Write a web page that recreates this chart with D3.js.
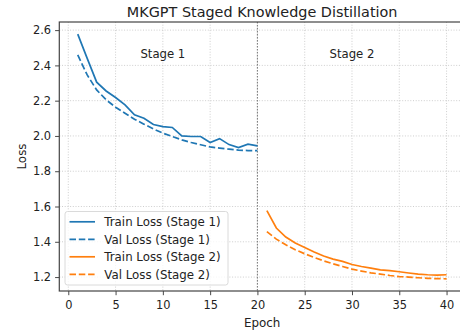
<!DOCTYPE html>
<html>
<head>
<meta charset="utf-8">
<script src="https://cdn.jsdelivr.net/npm/d3@7"></script>
<style>
    body { margin: 0; background: #fff; overflow: hidden; }
    text { font-family: "DejaVu Sans", sans-serif; fill: #222; }
</style>
</head>
<body>
<div id="chart"></div>
<script>
// data
const epochsStage1 = d3.range(1, 21);
const epochsStage2 = d3.range(21, 41);
const trainStage1 = [2.577, 2.44, 2.305, 2.255, 2.218, 2.176, 2.12, 2.10, 2.065, 2.053,
    2.048, 2.0, 1.997, 1.997, 1.963, 1.985, 1.951, 1.934, 1.953, 1.944];
const valStage1 = [2.459, 2.346, 2.261, 2.205, 2.163, 2.129, 2.095, 2.067, 2.04, 2.016,
    1.997, 1.978, 1.963, 1.95, 1.938, 1.931, 1.925, 1.92, 1.917, 1.917];
const trainStage2 = [1.577, 1.478, 1.427, 1.393, 1.368, 1.342, 1.319, 1.302, 1.289, 1.271,
    1.26, 1.251, 1.241, 1.236, 1.23, 1.223, 1.217, 1.213, 1.211, 1.213];
const valStage2 = [1.458, 1.415, 1.383, 1.355, 1.332, 1.311, 1.292, 1.275, 1.26, 1.245,
    1.234, 1.224, 1.217, 1.209, 1.203, 1.2, 1.196, 1.193, 1.191, 1.19];
const xTicks = [0, 5, 10, 15, 20, 25, 30, 35, 40];
const yTicks = [1.2, 1.4, 1.6, 1.8, 2.0, 2.2, 2.4, 2.6];
const seriesNames = ["Train Loss (Stage 1)", "Val Loss (Stage 1)", "Train Loss (Stage 2)", "Val Loss (Stage 2)"];
const stageLabels = [{ x: 10, text: "Stage 1" }, { x: 30, text: "Stage 2" }];
const stageBoundary = 20;

const width = 460, height = 331;
const plot = { left: 59.3, right: 465, top: 22, bottom: 291 };

const x = d3.scaleLinear().domain([-0.95, 41.95]).range([plot.left, plot.right]);
const y = d3.scaleLinear().domain([1.121, 2.646]).range([plot.bottom, plot.top]);

const blue = "#1f77b4", orange = "#ff7f0e";

const svg = d3.select("#chart")
    .append("svg")
    .attr("width", width)
    .attr("height", height);

// grid
const grid = svg.append("g").attr("class", "grid");
grid.selectAll(".gx")
    .data(xTicks)
    .enter()
    .append("line")
    .attr("x1", d => x(d)).attr("x2", d => x(d))
    .attr("y1", plot.top).attr("y2", plot.bottom)
    .attr("stroke", "#c8c8c8")
    .attr("stroke-width", 0.9)
    .attr("stroke-dasharray", "1,1.7");
grid.selectAll(".gy")
    .data(yTicks)
    .enter()
    .append("line")
    .attr("x1", plot.left).attr("x2", plot.right)
    .attr("y1", d => y(d)).attr("y2", d => y(d))
    .attr("stroke", "#c8c8c8")
    .attr("stroke-width", 0.9)
    .attr("stroke-dasharray", "1,1.7");

// stage divider
svg.append("line")
    .attr("x1", x(stageBoundary)).attr("x2", x(stageBoundary))
    .attr("y1", plot.top).attr("y2", plot.bottom)
    .attr("stroke", "#808080")
    .attr("stroke-width", 1.1)
    .attr("stroke-dasharray", "1.5,1.5");

const line = d3.line().x(d => x(d[0])).y(d => y(d[1]));
const series = [
    { ep: epochsStage1, vals: trainStage1, color: blue, dash: null },
    { ep: epochsStage1, vals: valStage1, color: blue, dash: "6.5,2.8" },
    { ep: epochsStage2, vals: trainStage2, color: orange, dash: null },
    { ep: epochsStage2, vals: valStage2, color: orange, dash: "6.5,2.8" }
];

series.forEach(s => {
    svg.append("path")
        .datum(s.ep.map((e, i) => [e, s.vals[i]]))
        .attr("d", line)
        .attr("fill", "none")
        .attr("stroke", s.color)
        .attr("stroke-width", 1.7)
        .attr("stroke-dasharray", s.dash);
});

// stage labels
svg.selectAll(".stage-label")
    .data(stageLabels)
    .enter()
    .append("text")
    .attr("x", d => x(d.x))
    .attr("y", 58)
    .attr("text-anchor", "middle")
    .attr("font-size", "11.7px")
    .text(d => d.text);

// axes
const xAxis = d3.axisBottom(x).tickValues(xTicks).tickSize(4.2).tickPadding(6).tickFormat(d3.format("d"));
const yAxis = d3.axisLeft(y).tickValues(yTicks).tickSize(4.2).tickPadding(4).tickFormat(d3.format(".1f"));

const gx = svg.append("g").attr("transform", `translate(0,${plot.bottom})`).call(xAxis);
const gy = svg.append("g").attr("transform", `translate(${plot.left},0)`).call(yAxis);
[gx, gy].forEach(g => {
    g.select(".domain").remove();
    g.selectAll("line").attr("stroke", "#333").attr("stroke-width", 0.9);
    g.selectAll("text").attr("font-size", "11.4px").attr("fill", "#222")
        .style("font-family", "DejaVu Sans, sans-serif");
});

// spines
svg.append("rect")
    .attr("x", plot.left).attr("y", plot.top)
    .attr("width", plot.right - plot.left)
    .attr("height", plot.bottom - plot.top)
    .attr("fill", "none")
    .attr("stroke", "#444")
    .attr("stroke-width", 1.2);

// labels
svg.append("text")
    .attr("x", (plot.left + plot.right) / 2)
    .attr("y", 17)
    .attr("text-anchor", "middle")
    .attr("font-size", "14.4px")
    .text("MKGPT Staged Knowledge Distillation");

svg.append("text")
    .attr("x", (plot.left + plot.right) / 2)
    .attr("y", 326.5)
    .attr("text-anchor", "middle")
    .attr("font-size", "11.9px")
    .text("Epoch");

svg.append("text")
    .attr("transform", `translate(25.5,${(plot.top + plot.bottom) / 2}) rotate(-90)`)
    .attr("text-anchor", "middle")
    .attr("font-size", "11.9px")
    .text("Loss");

// legend
const legend = svg.append("g").attr("transform", "translate(65,211.5)");
legend.append("rect")
    .attr("width", 163)
    .attr("height", 73.5)
    .attr("rx", 2.5)
    .attr("fill", "#fff")
    .attr("fill-opacity", 0.8)
    .attr("stroke", "#d6d6d6")
    .attr("stroke-width", 0.9);

const rows = legend.selectAll(".row")
    .data(series)
    .enter()
    .append("g")
    .attr("transform", (d, i) => `translate(0,${10.3 + i * 17.5})`);
rows.append("line")
    .attr("x1", 4.5).attr("x2", 30)
    .attr("stroke", d => d.color)
    .attr("stroke-width", 1.7)
    .attr("stroke-dasharray", d => d.dash);
rows.append("text")
    .attr("x", 39.3)
    .attr("y", 4.2)
    .attr("font-size", "11.8px")
    .text((d, i) => seriesNames[i]);
</script>
</body>
</html>
